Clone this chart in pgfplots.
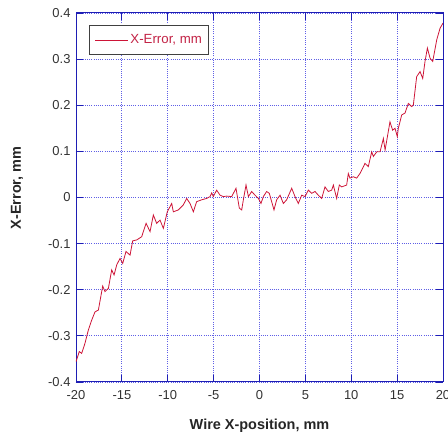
\documentclass[border=0pt]{standalone}
\usepackage{pgfplots}
\pgfplotsset{compat=1.18}
\usepackage{fontspec}
\setmainfont{Liberation Sans}
\definecolor{axblue}{RGB}{30,30,180}
\definecolor{gridblue}{RGB}{95,95,230}
\definecolor{curvered}{RGB}{205,20,55}
\definecolor{legred}{RGB}{195,35,70}
\definecolor{ticktext}{RGB}{50,50,50}
\begin{document}
\begin{tikzpicture}
\begin{axis}[
  scale only axis, width=367bp, height=369bp,
  xmin=-20, xmax=20, ymin=-0.4, ymax=0.4,
  xtick={-20,-15,-10,-5,0,5,10,15,20},
  ytick={-0.4,-0.3,-0.2,-0.1,0,0.1,0.2,0.3,0.4},
  /pgf/number format/assume math mode=true,
  yticklabel style={/pgf/number format/fixed, /pgf/number format/precision=1},
  ticklabel style={font=\fontsize{13}{14}\selectfont, text=ticktext},
  xticklabel style={yshift=-5bp},
  yticklabel style={xshift=-2bp},
  tick align=inside, major tick length=7bp,
  tick style={axblue, line width=0.8pt},
  axis line style={axblue, line width=1pt},
  grid=major, grid style={gridblue, dash pattern=on 1bp off 1.2bp, line width=0.9pt},
  xlabel={Wire X-position, mm},
  ylabel={X-Error, mm},
  label style={font=\bfseries\fontsize{14.5}{16}\selectfont, text=black!85},
  xlabel style={at={(axis description cs:0.5,-0.119)}, anchor=center},
  ylabel style={at={(axis description cs:-0.161,0.526)}, anchor=center, rotate=0},
  legend style={at={(axis description cs:0.036,0.967)}, anchor=north west,
    draw=black!75, line width=1pt, fill=white, font=\fontsize{13.3}{15}\selectfont, text=legred,
    inner xsep=5bp, inner ysep=7bp},
  legend image code/.code={\draw[#1] (0bp,0bp) -- (33bp,0bp);},
]
\addplot[curvered, line width=0.8pt] coordinates {
(-20.00,-0.356) (-19.64,-0.334) (-19.38,-0.338) (-19.02,-0.316) (-18.65,-0.287)
(-18.29,-0.266) (-17.93,-0.248) (-17.56,-0.244) (-17.09,-0.192) (-16.84,-0.204)
(-16.47,-0.197) (-16.11,-0.157) (-15.85,-0.168) (-15.56,-0.146) (-15.20,-0.132)
(-14.91,-0.143) (-14.55,-0.117) (-14.11,-0.125) (-13.82,-0.094) (-13.38,-0.092)
(-12.84,-0.085) (-12.36,-0.056) (-11.93,-0.074)
(-11.57,-0.038) (-11.21,-0.056) (-10.84,-0.049) (-10.48,-0.067) (-10.05,-0.031)
(-9.57,-0.013) (-9.39,-0.031) (-8.85,-0.027) (-8.30,-0.016) (-7.94,-0.002)
(-7.57,-0.013) (-7.21,-0.031) (-6.85,-0.009) (-6.30,-0.005) (-5.76,-0.002)
(-5.39,0.002) (-5.21,0.010) (-5.03,0.002) (-4.67,0.016) (-4.30,0.005)
(-3.94,0.002) (-3.58,0.003) (-3.03,0.002) (-2.56,0.020) (-2.20,-0.023)
(-1.94,-0.027) (-1.76,-0.005) (-1.47,0.027) (-1.21,0.002) (-0.85,0.013)
(-0.49,0.005) (-0.12,-0.002) (0.16,-0.013) (0.42,0.002) (0.78,0.013)
(1.07,0.009) (1.58,-0.027) (1.87,-0.005) (2.24,0.005) (2.60,-0.013)
(2.96,-0.005) (3.51,0.020) (3.87,0.002) (4.23,-0.013) (4.60,0.005)
(4.96,0.002) (5.32,0.016) (5.69,0.009) (6.05,0.013) (6.41,0.005)
(6.78,-0.002) (7.14,0.023) (7.50,0.013) (7.87,0.016) (8.05,0.027)
(8.41,-0.002) (8.70,0.027) (8.96,0.023) (9.50,0.027) (9.68,0.052)
(9.86,0.042) (10.23,0.045) (10.59,0.042) (10.95,0.052) (11.50,0.074)
(11.86,0.067) (12.23,0.099) (12.41,0.089) (12.78,0.099) (13.14,0.099)
(13.50,0.128) (13.69,0.103) (14.22,0.164) (14.51,0.146) (14.77,0.150)
(15.02,0.132) (15.13,0.150) (15.50,0.179) (15.86,0.183) (16.22,0.204)
(16.59,0.197) (16.77,0.201) (17.13,0.262) (17.50,0.273) (17.79,0.258)
(18.04,0.295) (18.30,0.324) (18.59,0.302) (18.88,0.295) (19.32,0.342)
(19.68,0.367) (20.00,0.378)
};
\addlegendentry{X-Error, mm}
\coordinate (SW) at (rel axis cs:0,0);
\coordinate (NE) at (rel axis cs:1,1);
\end{axis}
\pgfresetboundingbox
\path (SW) ++(-76bp,-65bp) coordinate (BL);
\path (NE) ++(5bp,13bp) coordinate (TR);
\path[use as bounding box] (BL) rectangle (TR);
\end{tikzpicture}
\end{document}
